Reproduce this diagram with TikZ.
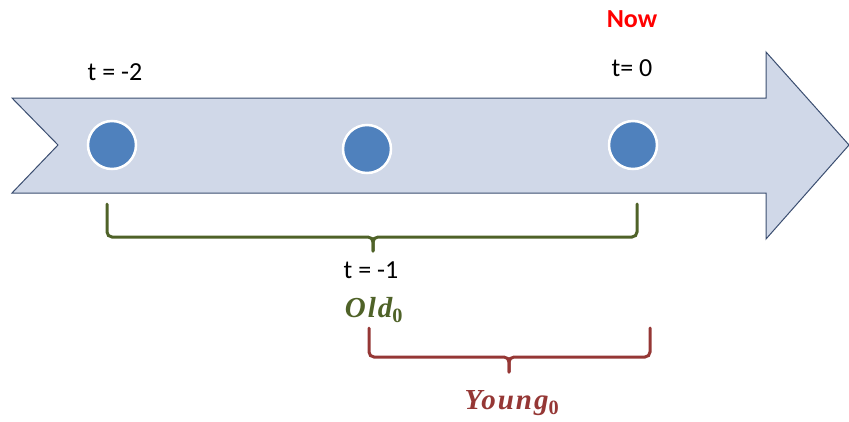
\documentclass[tikz,border=0pt]{standalone}
\usepackage{fontspec}
\setmainfont{Carlito}
\newfontfamily\mathlike[LetterSpace=7]{Liberation Serif}
\definecolor{arrowfill}{HTML}{D0D8E8}
\definecolor{arrowline}{HTML}{3B4E70}
\definecolor{dotblue}{HTML}{4F81BD}
\definecolor{oldgreen}{HTML}{4F6228}
\definecolor{youngred}{HTML}{953735}
\tikzset{
  dot/.style={circle, fill=dotblue, draw=white, line width=2.5pt, minimum size=48pt, inner sep=0pt},
  lbl/.style={font=\fontsize{26}{30}\selectfont, inner sep=0pt},
  mlbl/.style={font=\fontsize{29}{34}\selectfont\mathlike\bfseries\itshape, inner sep=0pt},
  brace/.style={line width=3pt, rounded corners=5pt, line cap=round},
}
\newcommand{\subz}{\textsubscript{\upshape 0}}
\begin{document}
\begin{tikzpicture}[x=1pt,y=-1pt]
\useasboundingbox (0,0) rectangle (849,421);
% big arrow
\draw[fill=arrowfill, draw=arrowline, line width=1pt, line join=miter]
  (12,98) -- (766,98) -- (766,52) -- (849,145) -- (766,239) -- (766,193) -- (12,193) -- (58,145) -- cycle;
% dots
\node[dot] (d1) at (112,145) {};
\node[dot] (d2) at (367,149) {};
\node[dot] (d3) at (633,145) {};
% labels
\node[lbl] (tm2) at (115,72) {t = -2};
\node[lbl, text=red, font=\fontsize{26}{30}\selectfont\bfseries] (now) at (632,19) {Now};
\node[lbl] (t0) at (632,68) {t= 0};
\node[lbl] (tm1) at (371,270) {t = -1};
\node[mlbl, text=oldgreen] (old) at (374,310) {Old\subz};
\node[mlbl, text=youngred] (young) at (512,403) {Young\subz};
% green brace
\coordinate (gL) at (107,204);
\coordinate (gR) at (637,204);
\coordinate (gT) at (373,251);
\draw[brace, draw=oldgreen] (gL) -- (gL |- 0,237) -- (gT |- 0,237) -- (gT);
\draw[brace, draw=oldgreen] (gR) -- (gR |- 0,237) -- (gT |- 0,237) -- (gT);
% red brace
\coordinate (rL) at (369,328);
\coordinate (rR) at (650,328);
\coordinate (rT) at (509,372);
\draw[brace, draw=youngred] (rL) -- (rL |- 0,357) -- (rT |- 0,357) -- (rT);
\draw[brace, draw=youngred] (rR) -- (rR |- 0,357) -- (rT |- 0,357) -- (rT);
\end{tikzpicture}
\end{document}
